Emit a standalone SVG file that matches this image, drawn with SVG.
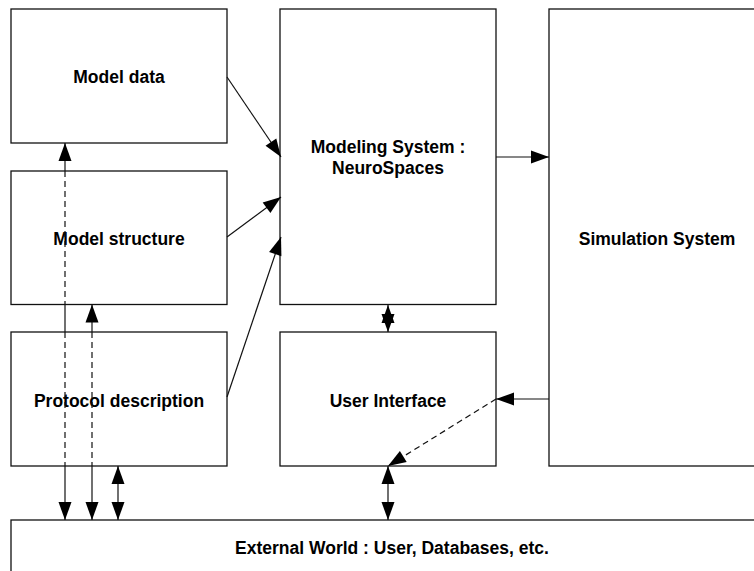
<svg xmlns="http://www.w3.org/2000/svg" width="754" height="571" viewBox="0 0 754 571">
<defs>
<style>
.box{fill:#fff;stroke:#111;stroke-width:1.3}
.lbl{font-family:"Liberation Sans",Arial,sans-serif;font-weight:bold;font-size:17.5px;fill:#000;text-anchor:middle}
.c{fill:none;stroke:#111;stroke-width:1.2}
.d{stroke-dasharray:6 4}
</style>
<marker id="ah" markerUnits="userSpaceOnUse" markerWidth="20" markerHeight="14" refX="18" refY="7" orient="auto-start-reverse" overflow="visible">
<path d="M0,0.5 L18,7 L0,13.5 Z" fill="#000" stroke="none"/>
</marker>
</defs>
<rect width="754" height="571" fill="#fff"/>
<g id="model-data"><rect class="box" x="11" y="9" width="216" height="134"/><text class="lbl" x="119" y="83">Model data</text></g>
<g id="model-structure"><rect class="box" x="11" y="171" width="216" height="133.5"/><text class="lbl" x="119" y="245">Model structure</text></g>
<g id="protocol-description"><rect class="box" x="11" y="332" width="216" height="134"/><text class="lbl" x="119" y="407">Protocol description</text></g>
<g id="modeling-system"><rect class="box" x="280" y="9" width="216" height="295.5"/><text class="lbl" x="388" y="153">Modeling System :</text><text class="lbl" x="388" y="174">NeuroSpaces</text></g>
<g id="user-interface"><rect class="box" x="280" y="332" width="216" height="134"/><text class="lbl" x="388" y="407">User Interface</text></g>
<g id="simulation-system"><rect class="box" x="549" y="9" width="230" height="457"/><text class="lbl" x="657" y="245">Simulation System</text></g>
<g id="external-world"><rect class="box" x="11" y="520" width="770" height="70"/><text class="lbl" x="392" y="554">External World : User, Databases, etc.</text></g>
<g id="connectors">
<path class="c" d="M227,77 L281,157" marker-end="url(#ah)"/>
<path class="c" d="M227,237 L281,197" marker-end="url(#ah)"/>
<path class="c" d="M227,397 L281,237" marker-end="url(#ah)"/>
<path class="c" d="M496,157 L549,157" marker-end="url(#ah)"/>
<path class="c" d="M388,305 L388,332" marker-start="url(#ah)" marker-end="url(#ah)"/>
<path class="c" d="M549,399 L496,399" marker-end="url(#ah)"/>
<path class="c d" d="M496,399 L388,466" marker-end="url(#ah)"/>
<path class="c" d="M388,466 L388,520" marker-start="url(#ah)" marker-end="url(#ah)"/>
<path class="c" d="M65,171 L65,143" marker-end="url(#ah)"/>
<path class="c d" d="M65,171 L65,304"/>
<path class="c" d="M65,304 L65,332"/>
<path class="c d" d="M65,332 L65,466"/>
<path class="c" d="M65,466 L65,520" marker-end="url(#ah)"/>
<path class="c" d="M92,332 L92,304.5" marker-end="url(#ah)"/>
<path class="c d" d="M92,332 L92,466"/>
<path class="c" d="M92,466 L92,520" marker-end="url(#ah)"/>
<path class="c" d="M118,466 L118,520" marker-start="url(#ah)" marker-end="url(#ah)"/>
</g>
</svg>
